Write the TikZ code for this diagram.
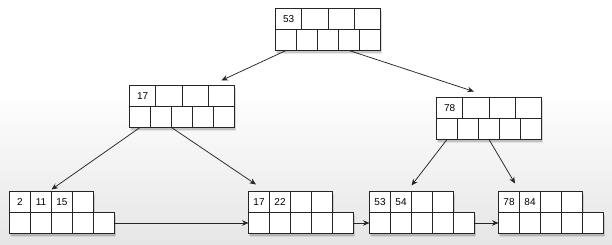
\documentclass[tikz,border=0pt]{standalone}
\usepackage{fontspec}
\setmainfont{Liberation Sans}
\usetikzlibrary{arrows.meta}

\tikzset{
  cell/.style={draw=black!85, line width=1pt, fill=white, inner sep=0pt,
    outer sep=0pt, anchor=north west, minimum height=21pt,
    font=\fontsize{10}{11}\selectfont},
  keycell/.style={cell, minimum width=26.25pt},
  leafkey/.style={cell, minimum width=21pt},
  ptrcell/.style={cell, minimum width=21pt},
  blockshadow/.style={fill=black, opacity=0.22},
  ptr/.style={draw=black!85, line width=0.75pt, -{Stealth[length=6.5pt,width=5.5pt]}}
}

\begin{document}
\begin{tikzpicture}[x=1pt,y=-1pt]

\useasboundingbox (0,0) rectangle (612,245);
\fill[white] (0,0) rectangle (612,245);
\shade[top color=white,bottom color=black!10] (0,90) rectangle (612,245);

% shadows under the blocks
\foreach \x/\y/\w in {275.5/8.5/105,129.5/85.5/105,436.5/97.5/105,9.5/191.5/84,248.5/191.5/84,369.5/191.5/84,498.5/191.5/84}
  \fill[blockshadow] (\x+1.2,\y+2.8) rectangle ++(\w,21)
                     (\x+1.2,\y+23.8) rectangle ++(105,21);

% root
\foreach \k/\v in {1/53,2/{},3/{},4/{}}
  \node[keycell] (r-t\k) at ({275.5+26.25*(\k-1)},8.5) {\v};
\foreach \k in {1,...,5}
  \node[ptrcell] (r-b\k) at ({275.5+21*(\k-1)},29.5) {};

% inner nodes
\foreach \k/\v in {1/17,2/{},3/{},4/{}}
  \node[keycell] (p-t\k) at ({129.5+26.25*(\k-1)},85.5) {\v};
\foreach \k in {1,...,5}
  \node[ptrcell] (p-b\k) at ({129.5+21*(\k-1)},106.5) {};

\foreach \k/\v in {1/78,2/{},3/{},4/{}}
  \node[keycell] (q-t\k) at ({436.5+26.25*(\k-1)},97.5) {\v};
\foreach \k in {1,...,5}
  \node[ptrcell] (q-b\k) at ({436.5+21*(\k-1)},118.5) {};

% leaves
\foreach \k/\v in {1/2,2/11,3/15,4/{}}
  \node[leafkey] (a-t\k) at ({9.5+21*(\k-1)},191.5) {\v};
\foreach \k in {1,...,5}
  \node[ptrcell] (a-b\k) at ({9.5+21*(\k-1)},212.5) {};

\foreach \k/\v in {1/17,2/22,3/{},4/{}}
  \node[leafkey] (b-t\k) at ({248.5+21*(\k-1)},191.5) {\v};
\foreach \k in {1,...,5}
  \node[ptrcell] (b-b\k) at ({248.5+21*(\k-1)},212.5) {};

\foreach \k/\v in {1/53,2/54,3/{},4/{}}
  \node[leafkey] (c-t\k) at ({369.5+21*(\k-1)},191.5) {\v};
\foreach \k in {1,...,5}
  \node[ptrcell] (c-b\k) at ({369.5+21*(\k-1)},212.5) {};

\foreach \k/\v in {1/78,2/84,3/{},4/{}}
  \node[leafkey] (d-t\k) at ({498.5+21*(\k-1)},191.5) {\v};
\foreach \k in {1,...,5}
  \node[ptrcell] (d-b\k) at ({498.5+21*(\k-1)},212.5) {};

% tree pointers
\draw[ptr] (r-b1.south) -- ([yshift=5pt]p-t4.north);
\draw[ptr] (r-b4.south) -- ([xshift=-2pt,yshift=6pt]q-t2.north);
\draw[ptr] (p-b1.south) -- ([yshift=2pt]a-t2.north east);
\draw[ptr] (p-b2.south east) -- ([xshift=-3pt,yshift=7pt]b-t1.north);
\draw[ptr] (q-b1.south) -- ([yshift=6pt]c-t2.north east);
\draw[ptr] (q-b3.south) -- ([xshift=6pt,yshift=8pt]d-t1.north);

% leaf chain
\draw[ptr] (a-b5.east) -- (b-b1.west);
\draw[ptr] (b-b5.east) -- (c-b1.west);
\draw[ptr] (c-b5.east) -- (d-b1.west);

\end{tikzpicture}
\end{document}
